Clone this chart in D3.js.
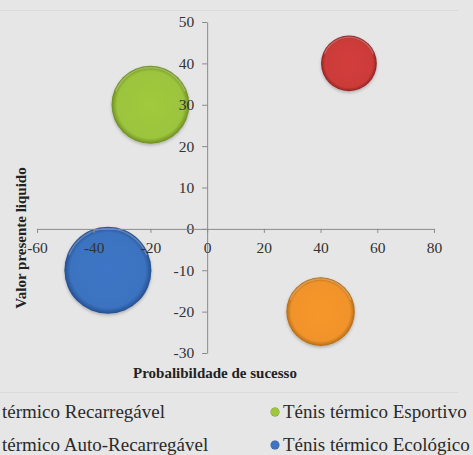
<!DOCTYPE html>
<html>
<head>
<meta charset="utf-8">
<script src="https://cdn.jsdelivr.net/npm/d3@7"></script>
<style>
  html, body { margin: 0; padding: 0; background: #e6e6e6; overflow: hidden; }
  svg { display: block; }
</style>
</head>
<body>
<svg id="chart" width="473" height="455"></svg>
<script>
// Product portfolio: probability of success vs. net present value, bubble = relative size
const products = ["Ténis térmico Recarregável", "Ténis térmico Esportivo",
                  "Ténis térmico Auto-Recarregável", "Ténis térmico Ecológico"];
const probability = [50, -20, 40, -35];
const npv = [40, 30, -20, -10];
const bubbleSize = [41, 80, 62, 100];
const colors = ["#cc3b39", "#9cc43c", "#f0932b", "#3b73c0"];
const edgeColors = ["#8c2222", "#6b8c22", "#b06a16", "#244f8e"];
const xTicks = [-60, -40, -20, 0, 20, 40, 60, 80];
const yTicks = [-30, -20, -10, 0, 10, 20, 30, 40, 50];
const xTitle = "Probalibildade de sucesso";
const yTitle = "Valor presente liquido";

const svg = d3.select("#chart");
const serif = "'Liberation Serif', 'Times New Roman', serif";

const x = d3.scaleLinear().domain([-60, 80]).range([37, 434]);
const y = d3.scaleLinear().domain([-30, 50]).range([353, 22]);
const r = d3.scaleSqrt().domain([0, 100]).range([0, 43.5]);

// faint plot-area frame lines
svg.append("line").attr("x1", 0).attr("x2", 458).attr("y1", 10.5).attr("y2", 10.5)
  .attr("stroke", "#dadada").attr("stroke-width", 1);
svg.append("line").attr("x1", 0).attr("x2", 458).attr("y1", 392.5).attr("y2", 392.5)
  .attr("stroke", "#dadada").attr("stroke-width", 1);

const defs = svg.append("defs");
colors.forEach((c, i) => {
  const g = defs.append("radialGradient").attr("id", "bub" + i)
    .attr("cx", "50%").attr("cy", "50%").attr("r", "50%");
  g.append("stop").attr("offset", "0%").attr("stop-color", d3.color(c).brighter(0.08));
  g.append("stop").attr("offset", "86%").attr("stop-color", c);
  g.append("stop").attr("offset", "95%").attr("stop-color", d3.interpolateRgb(c, edgeColors[i])(0.6));
  g.append("stop").attr("offset", "100%").attr("stop-color", edgeColors[i]);
});
const shadow = defs.append("filter").attr("id", "shadow")
  .attr("x", "-20%").attr("y", "-20%").attr("width", "140%").attr("height", "140%");
shadow.append("feDropShadow").attr("dx", 0).attr("dy", 1.5).attr("stdDeviation", 1.5)
  .attr("flood-color", "#000").attr("flood-opacity", 0.25);

const data = products.map((p, i) => ({ p, i, x: probability[i], y: npv[i], s: bubbleSize[i] }));

// bubbles, largest first
svg.append("g").selectAll("circle")
  .data(data.slice().sort((a, b) => b.s - a.s))
  .join("circle")
  .attr("cx", d => x(d.x))
  .attr("cy", d => y(d.y))
  .attr("r", d => r(d.s))
  .attr("fill", d => `url(#bub${d.i})`)
  .attr("filter", "url(#shadow)");

// top rim highlight
svg.append("g").selectAll("path")
  .data(data)
  .join("path")
  .attr("transform", d => `translate(${x(d.x)},${y(d.y)})`)
  .attr("d", d => d3.arc()({ innerRadius: r(d.s) - 2.5, outerRadius: r(d.s) - 1,
                              startAngle: -1.2, endAngle: 1.2 }))
  .attr("fill", "#fff").attr("opacity", 0.25);

// axes crossing at the origin; labels use a plain hyphen for negatives
const axisColor = "#8a8a8a";
const plain = d => String(d);
const yAxis = svg.append("g")
  .attr("transform", `translate(${x(0)},0)`)
  .call(d3.axisLeft(y).tickValues(yTicks).tickFormat(plain)
    .tickSize(5).tickSizeOuter(0).tickPadding(8));
const xAxis = svg.append("g")
  .attr("transform", `translate(0,${y(0)})`)
  .call(d3.axisBottom(x).tickValues(xTicks).tickFormat(plain)
    .tickSize(4).tickSizeOuter(0).tickPadding(9));

[xAxis, yAxis].forEach(a => {
  a.select(".domain").attr("stroke", axisColor);
  a.selectAll(".tick line").attr("stroke", axisColor);
  a.selectAll(".tick text").attr("fill", "#333")
    .style("font-family", serif).style("font-size", "15.5px");
});

// axis titles
svg.append("text")
  .attr("x", 215).attr("y", 378)
  .attr("text-anchor", "middle")
  .style("font-family", serif).style("font-size", "15px").style("font-weight", "bold")
  .attr("fill", "#222")
  .text(xTitle);

svg.append("text")
  .attr("transform", "translate(26,238) rotate(-90)")
  .attr("text-anchor", "middle")
  .style("font-family", serif).style("font-size", "15px").style("font-weight", "bold")
  .attr("fill", "#222")
  .text(yTitle);

// legend, two columns; the left column runs past the page edge,
// so only its trailing words are written there
const legendPos = [
  { col: 0, row: 0 }, { col: 1, row: 0 }, { col: 0, row: 1 }, { col: 1, row: 1 }
];
const rowY = [418, 451];
const legend = svg.append("g");
data.forEach((d, i) => {
  const pos = legendPos[i];
  const label = pos.col === 0 ? d.p.slice(d.p.indexOf(" ") + 1) : d.p;
  const t = legend.append("text")
    .attr("y", rowY[pos.row])
    .style("font-family", serif).style("font-size", "19px")
    .attr("fill", "#2a2a2a")
    .text(label);
  if (pos.col === 0) {
    t.attr("x", 2);
  } else {
    const tx = 283;
    t.attr("x", tx);
    const w = t.node().getComputedTextLength();
    if (tx + w > 472) t.attr("textLength", 472 - tx).attr("lengthAdjust", "spacingAndGlyphs");
    legend.append("circle")
      .attr("cx", tx - 8).attr("cy", rowY[pos.row] - 6).attr("r", 4.5)
      .attr("fill", `url(#bub${d.i})`);
  }
});
</script>
</body>
</html>
